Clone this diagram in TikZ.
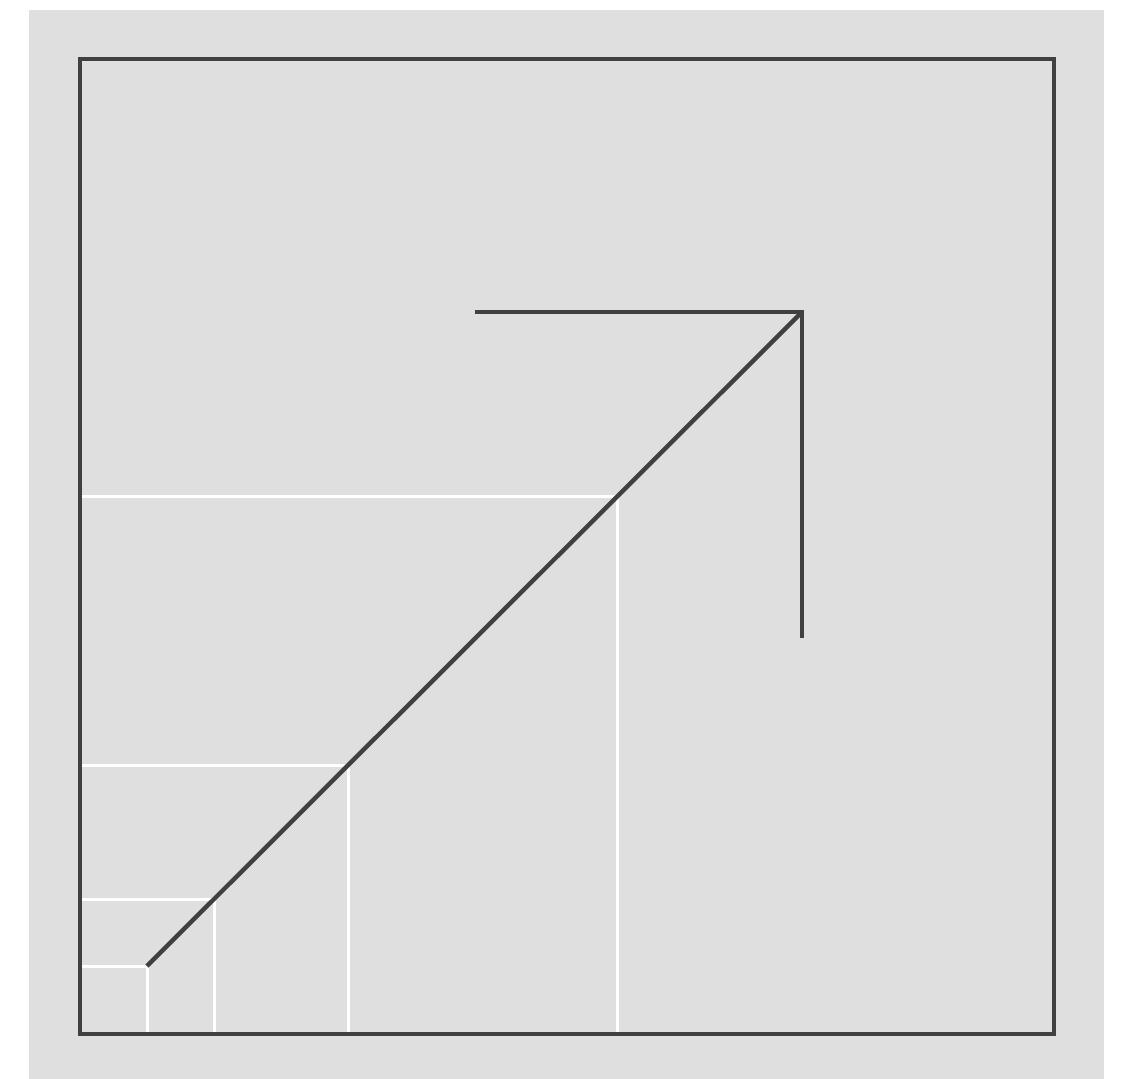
\documentclass[tikz,border=0pt]{standalone}
\usepackage{tikz}

\definecolor{panelgrey}{HTML}{DFDFDF}
\definecolor{inkgrey}{HTML}{404040}

\begin{document}
\begin{tikzpicture}[x=0.5pt,y=-0.5pt,
    frame/.style={draw=inkgrey,line width=2.2pt,line join=miter},
    guide/.style={draw=white,line width=1.9pt},
    pointer/.style={draw=inkgrey,line width=2.2pt,line join=miter}]

  % --- page and grey panel ---
  \useasboundingbox (0,0) rectangle (1128,1079);
  \fill[panelgrey] (29,10) rectangle (1104,1079);

  % --- the nested squares from the lower left corner, each twice the last ---
  \coordinate (corner) at (80,1034);
  \foreach \side in {67.5,134.5,268.5,537.5}{
    \draw[guide] (80,1034-\side) -- (80+\side,1034-\side) -- (80+\side,1034);
  }

  % --- the outer square ---
  \draw[frame] (80,59) rectangle (1054,1034);

  % --- the arrow: its shaft and its open head ---
  \coordinate (tail) at (147,966);
  \coordinate (tip)  at (802,312);
  \coordinate (headleft) at (475,312);
  \coordinate (headdown) at (802,638);
  \draw[pointer] (tail) -- (tip);
  \draw[pointer] (headleft) -- (tip) -- (headdown);
\end{tikzpicture}
\end{document}
